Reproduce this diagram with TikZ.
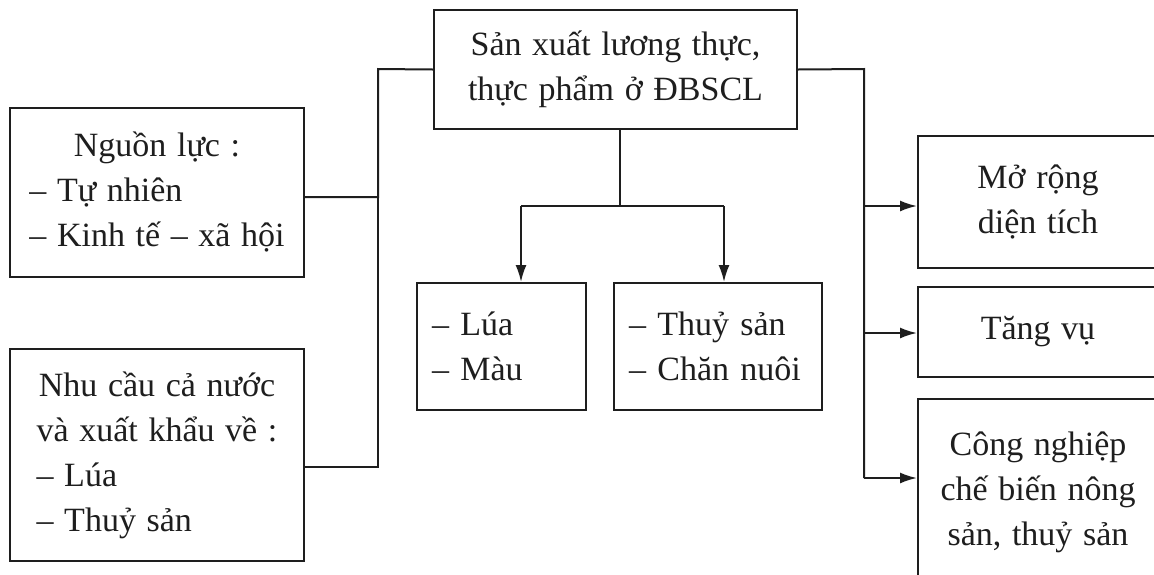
\documentclass[tikz,border=0pt]{standalone}
\usepackage{fontspec}
\setmainfont[WordSpace={1.25}]{Liberation Serif}
\usetikzlibrary{arrows.meta}
\definecolor{ink}{HTML}{1E1E1E}
\tikzset{
  box/.style={draw=ink, line width=2pt, inner sep=0pt, text=ink,
    font=\fontsize{34}{45}\selectfont},
  link/.style={draw=ink, line width=2pt},
  arrowlink/.style={link, -{Latex[length=17pt,width=11pt]}},
}
\begin{document}
\begin{tikzpicture}[x=1pt,y=-1pt]
\useasboundingbox (0,0) rectangle (1154,574);
\clip (0,0) rectangle (1154,574);
\fill[white] (0,0) rectangle (1154,574);

% central box
\node[box, minimum width=363pt, minimum height=119pt, align=center] (main) at (615.5,69.5)
  {Sản xuất lương thực,\\thực phẩm ở ĐBSCL};

% inputs on the left
\node[box, minimum width=294pt, minimum height=169pt] (nguon) at (157,192.5)
  {\begin{tabular}{@{}l@{}}\multicolumn{1}{@{}c@{}}{Nguồn lực :}\\– Tự nhiên\\– Kinh tế – xã hội\end{tabular}};
\node[box, minimum width=294pt, minimum height=212pt] (nhucau) at (157,455)
  {\begin{tabular}{@{}l@{}}\multicolumn{1}{@{}c@{}}{Nhu cầu cả nước}\\\multicolumn{1}{@{}c@{}}{và xuất khẩu về :}\\– Lúa\\– Thuỷ sản\end{tabular}};

% product groups
\node[box, minimum width=169pt, minimum height=127pt, text width=139pt, align=left] (lua) at (501.5,346.5)
  {– Lúa\\– Màu};
\node[box, minimum width=208pt, minimum height=127pt, text width=178pt, align=left] (thuy) at (718,346.5)
  {– Thuỷ sản\\– Chăn nuôi};

% directions on the right
\node[box, minimum width=240pt, minimum height=132pt, align=center] (moRong) at (1038,202)
  {Mở rộng\\diện tích};
\node[box, minimum width=240pt, minimum height=90pt, align=center] (tangVu) at (1038,332)
  {Tăng vụ};
\node[box, minimum width=240pt, minimum height=186pt, align=center] (congNghiep) at (1038,492)
  {Công nghiệp\\chế biến nông\\sản, thuỷ sản};

% left bus
\coordinate (busL) at (378,69);
\draw[link] ([yshift=-4.5pt]nguon.east) -| (busL) -- (main.west);
\draw[link] ([yshift=-12pt]nhucau.east) -| (busL);

% right bus
\coordinate (busR) at (864,69);
\coordinate (r1) at (864,206);
\coordinate (r2) at (864,333);
\coordinate (r3) at (864,478);
\draw[link] (main.east) -- (busR) -- (r3);
\draw[arrowlink] (r1) -- (r1 -| moRong.west);
\draw[arrowlink] (r2) -- (r2 -| tangVu.west);
\draw[arrowlink] (r3) -- (r3 -| congNghiep.west);

% bottom split
\coordinate (d0) at (620,206);
\coordinate (dL) at (521,206);
\coordinate (dR) at (724,206);
\draw[link] (main.south -| d0) -- (d0);
\draw[link] (dL) -- (dR);
\draw[arrowlink] (dL) -- (dL |- lua.north);
\draw[arrowlink] (dR) -- (dR |- thuy.north);
\end{tikzpicture}
\end{document}
